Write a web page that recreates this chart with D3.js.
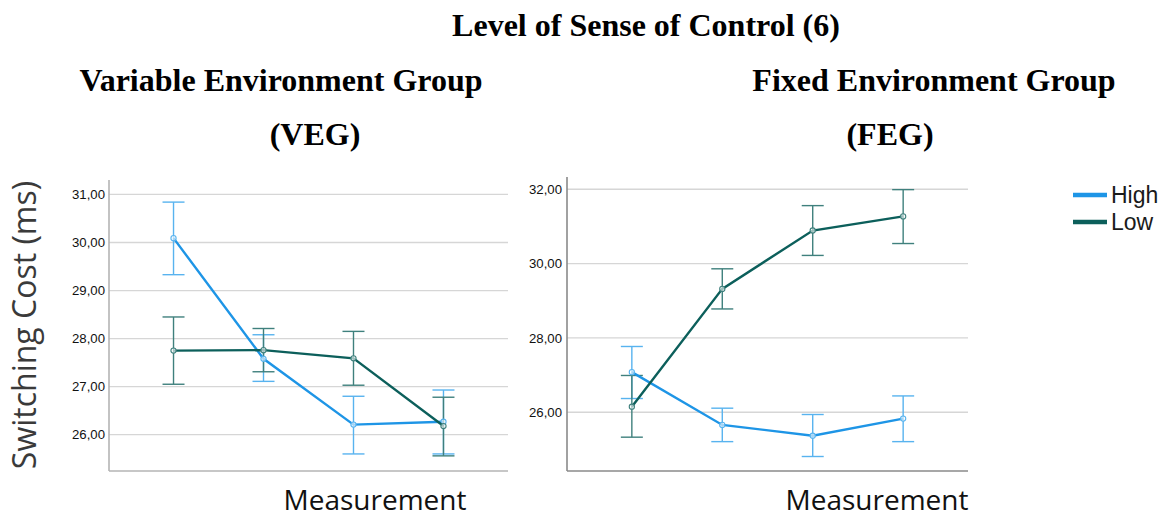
<!DOCTYPE html>
<html>
<head>
<meta charset="utf-8">
<script src="https://cdn.jsdelivr.net/npm/d3@7"></script>
<style>
  html, body { margin: 0; padding: 0; background: #fff; }
  svg { display: block; }
</style>
</head>
<body>
<svg id="chart" width="1168" height="518"></svg>
<script>
// Measurement occasions (x categories)
const measurements = ["1", "2", "3", "4"];
const seriesNames = ["High", "Low"];

// Variable Environment Group (VEG): means and error-bar bounds
const vegHigh    = [30.09, 27.58, 26.21, 26.27];
const vegHighLo  = [29.33, 27.11, 25.60, 25.60];
const vegHighHi  = [30.84, 28.08, 26.80, 26.93];
const vegLow     = [27.75, 27.76, 27.59, 26.18];
const vegLowLo   = [27.05, 27.31, 27.03, 25.56];
const vegLowHi   = [28.45, 28.21, 28.15, 26.78];

// Fixed Environment Group (FEG): means and error-bar bounds
const fegHigh    = [27.08, 25.66, 25.37, 25.83];
const fegHighLo  = [26.37, 25.21, 24.81, 25.21];
const fegHighHi  = [27.77, 26.11, 25.94, 26.44];
const fegLow     = [26.15, 29.32, 30.89, 31.27];
const fegLowLo   = [25.33, 28.78, 30.22, 30.54];
const fegLowHi   = [26.99, 29.86, 31.56, 31.99];

// Tick values for each panel's value axis
const vegTicks = [26, 27, 28, 29, 30, 31];
const fegTicks = [26, 28, 30, 32];

const svg = d3.select("#chart");
const fmt = d3.formatLocale({ decimal: ",", thousands: ".", grouping: [3], currency: ["", ""] }).format(".2f");

const colors = { High: "#1e95e6", Low: "#0c5f5b" };
const barColors = { High: "#58b3ef", Low: "#3f807d" };

function panel(opt) {
  const g = svg.append("g");
  const x = d3.scalePoint().domain(measurements).range([opt.left, opt.right]).padding(0.717);
  const y = d3.scaleLinear().domain(opt.domain).range([opt.bottom, opt.top]);

  // gridlines
  g.append("g").selectAll("line").data(opt.ticks).join("line")
    .attr("x1", opt.left).attr("x2", opt.right)
    .attr("y1", d => y(d)).attr("y2", d => y(d))
    .attr("stroke", "#d6d6d6").attr("stroke-width", 1.3);

  // value axis labels
  const ax = g.append("g").attr("transform", `translate(${opt.left - opt.labelGap},0)`)
    .call(d3.axisLeft(y).tickValues(opt.ticks).tickFormat(fmt).tickSize(0).tickPadding(0));
  ax.select(".domain").remove();
  ax.selectAll("text").attr("font-family", "Liberation Sans, Arial, sans-serif")
    .attr("font-size", 13.2).attr("fill", "#111");

  // axis lines
  g.append("line").attr("x1", opt.left).attr("x2", opt.left)
    .attr("y1", y(opt.domain[1])).attr("y2", opt.bottom)
    .attr("stroke", opt.axisColor).attr("stroke-width", 1.6);
  g.append("line").attr("x1", opt.left).attr("x2", opt.right)
    .attr("y1", opt.bottom).attr("y2", opt.bottom)
    .attr("stroke", opt.axisColor).attr("stroke-width", 1.6);

  const cap = 11;
  opt.series.forEach(s => {
    const pts = measurements.map((m, i) => ({ m, v: s.mean[i], lo: s.lo[i], hi: s.hi[i] }));
    const eb = g.append("g").attr("stroke", barColors[s.name]).attr("stroke-width", 1.4).attr("fill", "none");
    eb.selectAll(".v").data(pts).join("line")
      .attr("x1", d => x(d.m)).attr("x2", d => x(d.m))
      .attr("y1", d => y(d.lo)).attr("y2", d => y(d.hi));
    eb.selectAll(".t").data(pts).join("line")
      .attr("x1", d => x(d.m) - cap).attr("x2", d => x(d.m) + cap)
      .attr("y1", d => y(d.hi)).attr("y2", d => y(d.hi));
    eb.selectAll(".b").data(pts).join("line")
      .attr("x1", d => x(d.m) - cap).attr("x2", d => x(d.m) + cap)
      .attr("y1", d => y(d.lo)).attr("y2", d => y(d.lo));
  });
  opt.series.forEach(s => {
    const pts = measurements.map((m, i) => ({ m, v: s.mean[i] }));
    g.append("path").datum(pts)
      .attr("d", d3.line().x(d => x(d.m)).y(d => y(d.v)))
      .attr("fill", "none").attr("stroke", colors[s.name]).attr("stroke-width", 2.4);
    g.append("g").selectAll("circle").data(pts).join("circle")
      .attr("cx", d => x(d.m)).attr("cy", d => y(d.v)).attr("r", 2.6)
      .attr("fill", "#fff").attr("fill-opacity", 0.6)
      .attr("stroke", barColors[s.name]).attr("stroke-width", 1.1);
  });

  // x-axis title
  g.append("text").attr("x", opt.titleX).attr("y", 510)
    .attr("text-anchor", "middle").attr("font-family", "Open Sans, sans-serif")
    .attr("font-size", 28).attr("fill", "#111").text("Measurement");
}

panel({
  left: 109, right: 508, top: 180, bottom: 471, domain: [25.245, 31.3],
  ticks: vegTicks, labelGap: 4, axisColor: "#b4b4b4", titleX: 375,
  series: [
    { name: "High", mean: vegHigh, lo: vegHighLo, hi: vegHighHi },
    { name: "Low", mean: vegLow, lo: vegLowLo, hi: vegLowHi }
  ]
});

panel({
  left: 567, right: 968, top: 177, bottom: 471, domain: [24.42, 32.33],
  ticks: fegTicks, labelGap: 5, axisColor: "#8a8a8a", titleX: 877,
  series: [
    { name: "High", mean: fegHigh, lo: fegHighLo, hi: fegHighHi },
    { name: "Low", mean: fegLow, lo: fegLowLo, hi: fegLowHi }
  ]
});

// value-axis title
svg.append("text")
  .attr("transform", "translate(36,325) rotate(-90)")
  .attr("text-anchor", "middle").attr("font-family", "Open Sans, sans-serif")
  .attr("font-size", 32).attr("fill", "#3a3a3a").text("Switching Cost (ms)");

// titles
const serif = "Liberation Serif, Times New Roman, serif";
const titles = [
  { t: "Level of Sense of Control (6)", x: 646, y: 36 },
  { t: "Variable Environment Group", x: 281, y: 91 },
  { t: "(VEG)", x: 315, y: 145 },
  { t: "Fixed Environment Group", x: 934, y: 91 },
  { t: "(FEG)", x: 890, y: 145 }
];
svg.append("g").selectAll("text").data(titles).join("text")
  .attr("x", d => d.x).attr("y", d => d.y).attr("text-anchor", "middle")
  .attr("font-family", serif).attr("font-weight", "bold").attr("font-size", 32)
  .attr("fill", "#000").text(d => d.t);

// legend
const lg = svg.append("g").selectAll("g").data(seriesNames).join("g")
  .attr("transform", (d, i) => `translate(1073,${195 + i * 27})`);
lg.append("line").attr("x1", 0).attr("x2", 34).attr("y1", 0).attr("y2", 0)
  .attr("stroke", d => colors[d]).attr("stroke-width", 4.5);
lg.append("text").attr("x", 38).attr("y", 0).attr("dy", "0.36em")
  .attr("font-family", "Liberation Sans, Arial, sans-serif").attr("font-size", 23)
  .attr("fill", "#1a1a1a").text(d => d);
</script>
</body>
</html>
